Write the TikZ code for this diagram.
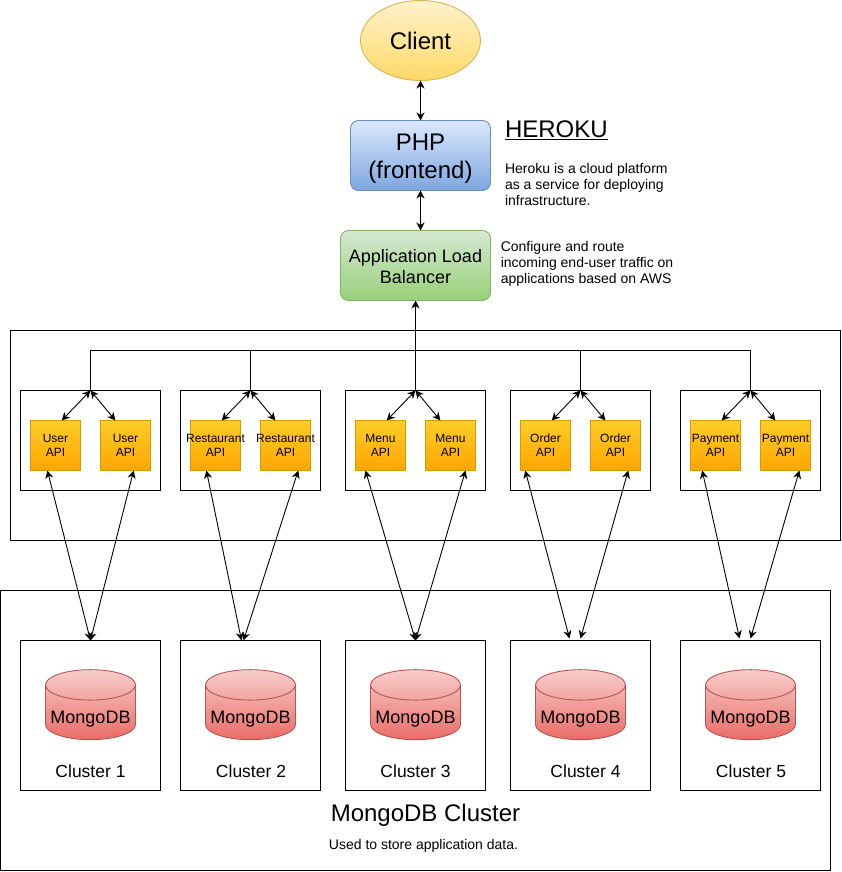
\documentclass[tikz,border=0pt]{standalone}
\usepackage{xcolor}
\usepackage{fontspec}
\setmainfont{Liberation Sans}
\usetikzlibrary{arrows.meta,positioning,shapes.geometric,calc}
\definecolor{clienttop}{HTML}{FFF2CC}
\definecolor{clientbot}{HTML}{FFD966}
\definecolor{clientline}{HTML}{D6B656}
\definecolor{phptop}{HTML}{DAE8FC}
\definecolor{phpbot}{HTML}{7EA6E0}
\definecolor{phpline}{HTML}{6C8EBF}
\definecolor{lbtop}{HTML}{D5E8D4}
\definecolor{lbbot}{HTML}{97D077}
\definecolor{lbline}{HTML}{82B366}
\definecolor{apitop}{HTML}{FFCD28}
\definecolor{apibot}{HTML}{FFA500}
\definecolor{apiline}{HTML}{D79B00}
\definecolor{dbtop}{HTML}{F8CECC}
\definecolor{dbbot}{HTML}{EA6B66}
\definecolor{dbline}{HTML}{B85450}
\newcommand{\dblabel}{\smash{\raisebox{-11pt}{MongoDB}}}

\begin{document}
\begin{tikzpicture}[x=1pt,y=-1pt,line width=0.9pt,>={Stealth[length=8pt,width=8pt,inset=2.5pt]},
   box/.style={draw,anchor=north west,inner sep=0pt,outer sep=0pt},
   panel/.style={draw,inner sep=0pt,outer sep=0pt,minimum width=140pt,minimum height=100pt},
   cluster/.style={draw,inner sep=0pt,outer sep=0pt,minimum width=140pt,minimum height=150pt},
   api/.style={draw=apiline,top color=apitop,bottom color=apibot,inner sep=0pt,outer sep=0pt,
               minimum width=50pt,minimum height=50pt,align=center,
               font=\fontsize{12}{14}\selectfont,execute at begin node={\rule{0pt}{10.8pt}}},
   db/.style={shape=cylinder,shape border rotate=90,aspect=0.38,draw=dbline,top color=dbtop,bottom color=dbbot,
              inner sep=0pt,outer sep=0pt,minimum width=90pt,minimum height=70pt,
              font=\fontsize{18}{21}\selectfont},
   txt/.style={inner sep=0pt,outer sep=0pt,align=left,anchor=west,font=\fontsize{14}{16}\selectfont},
   caption/.style={inner sep=0pt,outer sep=0pt,font=\fontsize{17.5}{21}\selectfont}]
  \useasboundingbox (0,0) rectangle (842,872);
  \node[box,minimum width=830pt,minimum height=210pt] (apitier) at (10.5,330.5) {};
  \node[box,minimum width=830pt,minimum height=280pt] (mongotier) at (0.5,590.5) {};

  \node[ellipse,draw=clientline,top color=clienttop,bottom color=clientbot,inner sep=0pt,outer sep=0pt,
        minimum width=120pt,minimum height=80pt,font=\fontsize{24}{28}\selectfont] (client) at (420.5,40.5) {Client};
  \node[rounded corners=8pt,draw=phpline,top color=phptop,bottom color=phpbot,inner sep=0pt,outer sep=0pt,
        minimum width=140pt,minimum height=70pt,align=center,font=\fontsize{24}{28}\selectfont,below=40pt of client] (php) {\rule{0pt}{23pt}PHP\\(frontend)};
  \node[rounded corners=8pt,draw=lbline,top color=lbtop,bottom color=lbbot,inner sep=0pt,outer sep=0pt,
        minimum width=150pt,minimum height=70pt,align=center,font=\fontsize{18}{21}\selectfont] (lb) at (415.5,265.5) {\rule{0pt}{15.2pt}Application Load\\Balancer};

  \node[txt,font=\fontsize{24}{28}\selectfont] (heroku) at (505,130) {\underline{HEROKU}};
  \node[txt] (herokutxt) at (505,184) {Heroku is a cloud platform\\as a service for deploying\\infrastructure.};
  \node[txt] (lbtxt) at (500.8,264) {Configure and route\\incoming end-user traffic on\\applications based on AWS};

  % panels of API nodes
  \node[panel] (userp) at (90.5,440.5) {};
  \node[panel,right=20pt of userp] (restp) {};
  \node[panel,right=25pt of restp] (menup) {};
  \node[panel,right=25pt of menup] (orderp) {};
  \node[panel,right=30pt of orderp] (payp) {};

  \node[api,below right=30pt and 10pt of userp.north west] (user1) {User\\API};
  \node[api,right=20pt of user1] (user2) {User\\API};
  \node[api,below right=30pt and 10pt of restp.north west] (rest1) {\makebox[0pt]{Restaurant}\\API};
  \node[api,right=20pt of rest1] (rest2) {\makebox[0pt]{Restaurant}\\API};
  \node[api,below right=30pt and 10pt of menup.north west] (menu1) {Menu\\API};
  \node[api,right=20pt of menu1] (menu2) {Menu\\API};
  \node[api,below right=30pt and 10pt of orderp.north west] (order1) {Order\\API};
  \node[api,right=20pt of order1] (order2) {Order\\API};
  \node[api,below right=30pt and 10pt of payp.north west] (pay1) {Payment\\API};
  \node[api,right=20pt of pay1] (pay2) {Payment\\API};

  % clusters
  \node[cluster,below=150pt of userp] (c1) {};
  \node[cluster,below=150pt of restp] (c2) {};
  \node[cluster,below=150pt of menup] (c3) {};
  \node[cluster,below=150pt of orderp] (c4) {};
  \node[cluster,below=150pt of payp] (c5) {};

  \node[db] (db1) at (90.5,712.5) {\dblabel};
  \node[db] (db2) at (250.5,712.5) {\dblabel};
  \node[db] (db3) at (415.5,712.5) {\dblabel};
  \node[db] (db4) at (580.5,712.5) {\dblabel};
  \node[db] (db5) at (750.5,712.5) {\dblabel};

  \node[caption] (cap1) at (90.5,771.5) {Cluster 1};
  \node[caption] (cap2) at (251,771.5) {Cluster 2};
  \node[caption] (cap3) at (415.5,771.5) {Cluster 3};
  \node[caption] (cap4) at (585.5,771.5) {Cluster 4};
  \node[caption] (cap5) at (751,771.5) {Cluster 5};
  \node[caption,font=\fontsize{24}{28}\selectfont] (mongotitle) at (425.5,815) {MongoDB Cluster};
  \node[caption,font=\fontsize{14}{16}\selectfont] (mongotxt) at (423.5,845.5) {Used to store application data.};

  \coordinate (bus) at (415.5,350.5);
  \draw (userp.north) |- (bus) -| (payp.north);
  \draw (restp.north) -- (restp.north |- bus);
  \draw (orderp.north) -- (orderp.north |- bus);
  \draw[->] (menup.north) -- (lb.south);
  \draw[<->] (client.south) -- (php.north);
  \draw[<->] (php.south) -- (php.south |- lb.north);

  \draw[<->] (userp.north) -- (user1.76);
  \draw[<->] (userp.north) -- (user2.112);
  \draw[<->] (restp.north) -- (rest1.76);
  \draw[<->] (restp.north) -- (rest2.112);
  \draw[<->] (menup.north) -- (menu1.76);
  \draw[<->] (menup.north) -- (menu2.112);
  \draw[<->] (orderp.north) -- (order1.76);
  \draw[<->] (orderp.north) -- (order2.112);
  \draw[<->] (payp.north) -- (pay1.76);
  \draw[<->] (payp.north) -- (pay2.112);

  \draw[<->] (user1.252) -- (c1.north);
  \draw[<->] (user2.288) -- (c1.north);
  \draw[<->] (rest1.250) -- ($(c2.north)+(-9,0)$);
  \draw[<->] (rest2.297) -- ($(c2.north)+(-7,0)$);
  \draw[<->] (menu1.239) -- (c3.north);
  \draw[<->] (menu2.301) -- (c3.north);
  \draw[<->] (order1.231) -- ($(c4.north)+(-11,-2)$);
  \draw[<->] (order2.297) -- ($(c4.north)+(0,-2)$);
  \draw[<->] (pay1.242) -- ($(c5.north)+(-11,-2)$);
  \draw[<->] (pay2.299) -- ($(c5.north)+(0,-2)$);
\end{tikzpicture}
\end{document}
